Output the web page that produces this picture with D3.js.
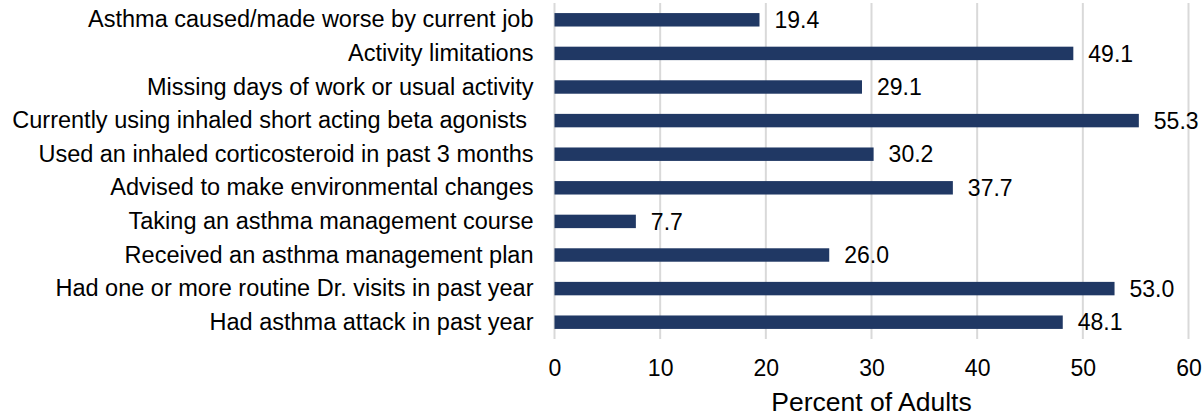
<!DOCTYPE html>
<head>
  <meta charset="utf-8">
  <script src="https://d3js.org/d3.v7.min.js"></script>
  <style type="text/css">
    body { margin: 0; background: #fff; }
    * { font-family: "Liberation Sans", Arial, sans-serif; }
  </style>
</head>
<body>
<div id="my_dataviz"></div>
<script>

// categories, top to bottom
var categories = [
  "Asthma caused/made worse by current job",
  "Activity limitations",
  "Missing days of work or usual activity",
  "Currently using inhaled short acting beta agonists ",
  "Used an inhaled corticosteroid in past 3 months",
  "Advised to make environmental changes",
  "Taking an asthma management course",
  "Received an asthma management plan",
  "Had one or more routine Dr. visits in past year",
  "Had asthma attack in past year"
];
var values = [19.4, 49.1, 29.1, 55.3, 30.2, 37.7, 7.7, 26.0, 53.0, 48.1];
var xTicks = [0, 10, 20, 30, 40, 50, 60];

var margin = {top: 3, right: 14.5, bottom: 77, left: 554.5},
    width = 1203 - margin.left - margin.right,
    height = 416 - margin.top - margin.bottom;

var svg = d3.select("#my_dataviz")
  .append("svg")
    .attr("width", 1203)
    .attr("height", 416)
  .append("g")
    .attr("transform", "translate(" + margin.left + "," + margin.top + ")");

var x = d3.scaleLinear()
  .domain([0, 60])
  .range([0, width]);

var y = d3.scaleBand()
  .domain(categories)
  .range([0, height])
  .paddingInner(0.6)
  .paddingOuter(0.3);

// gridlines
svg.append("g")
  .selectAll("line")
  .data(xTicks)
  .enter()
  .append("line")
    .attr("x1", function(d) { return x(d); })
    .attr("x2", function(d) { return x(d); })
    .attr("y1", 0)
    .attr("y2", height)
    .attr("stroke", "#d9d9d9")
    .attr("stroke-width", 2)

// X axis labels
var xAxis = svg.append("g")
  .attr("transform", "translate(0," + height + ")")
  .call(d3.axisBottom(x).tickValues(xTicks).tickSize(0).tickPadding(21).tickFormat(d3.format("d")))
xAxis.select(".domain").remove()
xAxis.selectAll("text")
  .style("font-size", "23px")
  .style("fill", "#000")

// Y axis labels
var yAxis = svg.append("g")
  .call(d3.axisLeft(y).tickSize(0).tickPadding(21))
yAxis.select(".domain").remove()
yAxis.selectAll("text")
  .style("font-size", "23.5px")
  .style("fill", "#000")
  .style("white-space", "pre")

// bars
svg.selectAll("mybar")
  .data(values)
  .enter()
  .append("rect")
    .attr("x", x(0))
    .attr("y", function(d, i) { return y(categories[i]); })
    .attr("width", function(d) { return x(d) - x(0); })
    .attr("height", y.bandwidth())
    .attr("fill", "#203864")

// value labels
svg.selectAll("mylabel")
  .data(values)
  .enter()
  .append("text")
    .attr("x", function(d) { return x(d) + 15; })
    .attr("y", function(d, i) { return y(categories[i]) + y.bandwidth() / 2; })
    .attr("dy", "0.36em")
    .style("font-size", "23px")
    .style("fill", "#000")
    .text(function(d) { return d.toFixed(1); })

// axis title
svg.append("text")
  .attr("x", width / 2)
  .attr("y", height + 72)
  .attr("text-anchor", "middle")
  .style("font-size", "26.5px")
  .style("fill", "#000")
  .text("Percent of Adults")

</script>
</body>
</html>
